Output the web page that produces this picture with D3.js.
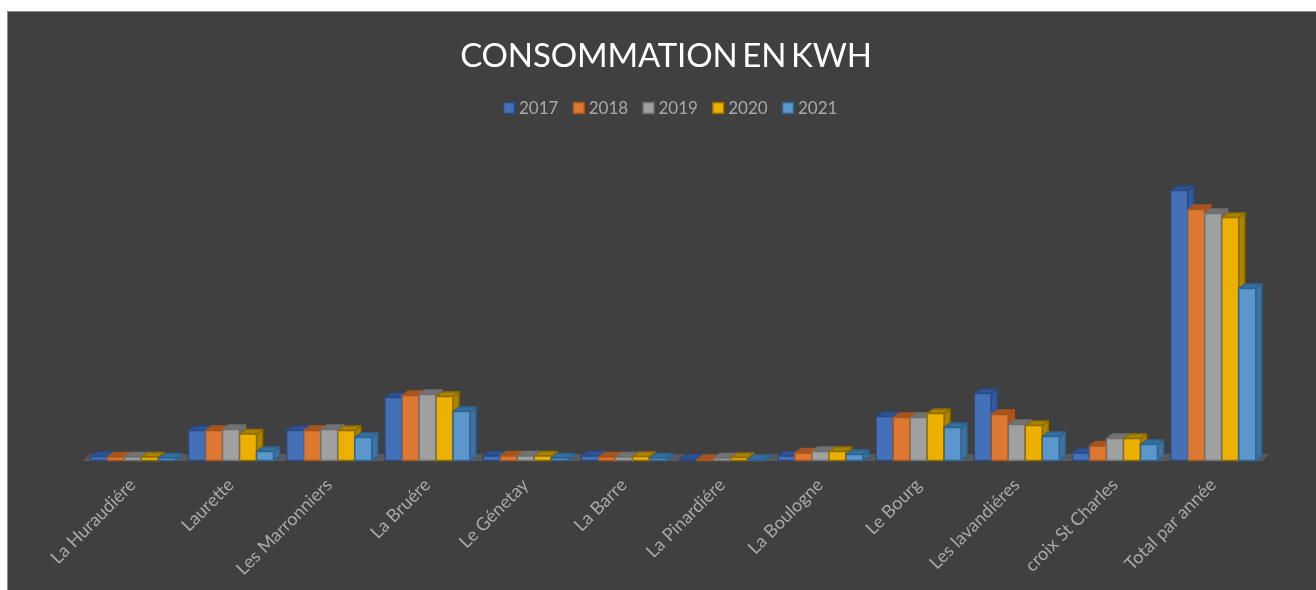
<!DOCTYPE html>
<html><head><meta charset="utf-8">
<script src="https://cdnjs.cloudflare.com/ajax/libs/d3/7.8.5/d3.min.js"></script>
<style>html,body{margin:0;padding:0;background:#fff;overflow:hidden}svg{display:block;filter:blur(0.4px)}text{font-family:Lato,"Open Sans",sans-serif}</style>
</head><body><svg id="c" width="1316" height="590"></svg>
<script>
const titleText = "CONSOMMATION EN KWH";
const categories = ["La Huraudiére","Laurette","Les Marronniers","La Bruére","Le Génetay","La Barre","La Pinardiére","La Boulogne","Le Bourg","Les lavandiéres","croix St Charles","Total par année"];
const years = ["2017","2018","2019","2020","2021"];
const v2017 = [4000,30000,30000,63000,4500,4500,1500,4500,44000,67000,7500,270000];
const v2018 = [3500,30000,30000,65000,4500,3500,800,7500,43000,46000,14500,251000];
const v2019 = [3500,31000,31000,66000,4500,3500,2500,9000,43000,36000,22000,247000];
const v2020 = [3500,26500,30000,64000,4500,4000,3000,9000,47000,35000,22000,243000];
const v2021 = [2500,9000,23000,49000,2500,2500,1200,6000,33000,24000,16000,172000];
const seriesValues = [v2017,v2018,v2019,v2020,v2021];
const frontColors = ["#4470b8","#dc7832","#a0a0a0","#ebb000","#5b97cc"];
const edgeColors  = ["#2a4a80","#a5541f","#6f6f6f","#8f6c00","#2f6390"];
const topColors   = ["#2f5597","#a9541e","#737373","#ab8400","#34709f"];
const sideColors  = ["#325a9c","#a9541e","#707070","#ab8400","#41719c"];

const svg = d3.select("#c");
svg.append("rect").attr("x",7.5).attr("y",11.5).attr("width",1320).attr("height",600)
   .attr("fill","#404040").attr("stroke","#8c8c8c");

const depthX = 6, depthY = 4.5;
const baseY = 460.6;
const x = d3.scaleBand().domain(categories).range([83.7,1262.3]);
const inner = d3.scaleBand().domain(years).range([-42.5,42.5]);
const y = d3.scaleLinear().domain([0,300000]).range([baseY,baseY-300]);
const line = d3.line();

// floor
svg.append("path").attr("fill","#595959")
  .attr("d",line([[x.range()[0]-1,baseY+0.4],[x.range()[1],baseY+0.4],[x.range()[1]+7,baseY-6.5],[x.range()[0]+6,baseY-6.5]])+"Z");

const plot = svg.append("g");
categories.forEach((cat,ci)=>{
  const cx = x(cat)+x.bandwidth()/2;
  const g = plot.append("g");
  years.forEach((yr,si)=>{
    const x0 = cx+inner(yr), x1 = x0+inner.bandwidth(), yt = y(seriesValues[si][ci]);
    const s = g.append("g").attr("stroke",edgeColors[si]).attr("stroke-width",1.5).attr("stroke-linejoin","round");
    s.append("path").attr("fill",sideColors[si])
      .attr("d",line([[x1,yt],[x1+depthX,yt-depthY],[x1+depthX,baseY-depthY],[x1,baseY]])+"Z");
    s.append("path").attr("fill",topColors[si])
      .attr("d",line([[x0,yt],[x0+depthX,yt-depthY],[x1+depthX,yt-depthY],[x1,yt]])+"Z");
    s.append("rect").attr("x",x0).attr("y",yt).attr("width",inner.bandwidth()).attr("height",baseY-yt)
      .attr("fill",frontColors[si]);
  });
});

// category labels
categories.forEach(cat=>{
  const cx = x(cat)+x.bandwidth()/2;
  svg.append("text").text(cat)
    .attr("transform",`translate(${cx+4},${baseY+25.5}) rotate(-45)`)
    .attr("text-anchor","end").attr("font-size",18).attr("fill","#a9a9a9");
});

// title
svg.append("text").text(titleText).attr("x",666).attr("y",66.5)
  .attr("text-anchor","middle").attr("font-size",33).attr("word-spacing",-3.5).attr("letter-spacing",-0.15).attr("fill","#ffffff");

// legend
const lx = d3.scalePoint().domain(years).range([503,782]);
years.forEach((yr,i)=>{
  svg.append("rect").attr("x",lx(yr)+0.5).attr("y",102.5).attr("width",11).attr("height",11)
    .attr("fill",frontColors[i]).attr("stroke",edgeColors[i]).attr("stroke-width",1.5);
  svg.append("text").text(yr).attr("x",lx(yr)+16).attr("y",114)
    .attr("font-size",17).attr("fill","#a9a9a9");
});
</script></body></html>
